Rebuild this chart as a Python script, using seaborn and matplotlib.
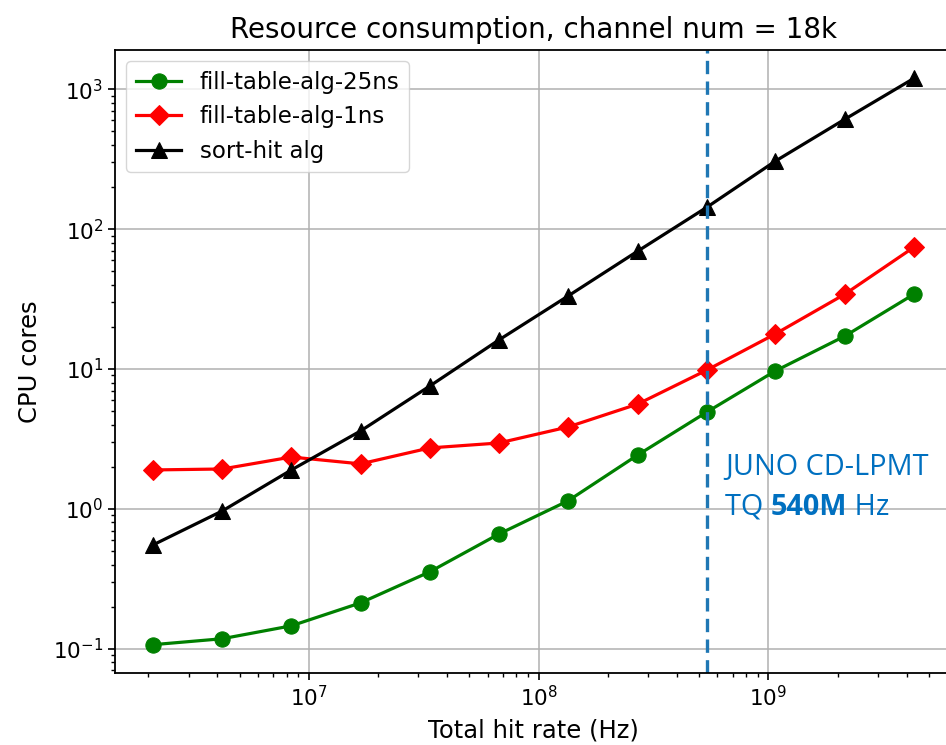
import matplotlib
matplotlib.use("Agg")
import matplotlib.pyplot as plt
import seaborn as sns
import numpy as np
import pandas as pd
from matplotlib.transforms import offset_copy

hit_rate = [2.1e6, 4.2e6, 8.4e6, 1.68e7, 3.36e7, 6.7e7, 1.34e8, 2.7e8, 5.4e8, 1.07e9, 2.15e9, 4.3e9]
fill_25ns = [0.107, 0.118, 0.146, 0.213, 0.355, 0.66, 1.14, 2.43, 4.93, 9.68, 17.2, 34.3]
fill_1ns = [1.90, 1.93, 2.35, 2.10, 2.73, 2.96, 3.85, 5.62, 9.84, 17.8, 34.3, 74.4]
sort_hit = [0.553, 0.967, 1.90, 3.61, 7.56, 16.1, 33.2, 69.7, 143.6, 306, 611, 1199]
series_names = ["fill-table-alg-25ns", "fill-table-alg-1ns", "sort-hit alg"]
juno_rate = 5.4e8

fig = plt.figure(figsize=(9.46, 7.45), dpi=100)
ax = fig.add_axes([115/946, 1 - 673/745, (952 - 115)/946, (673 - 50)/745])

styles = [("green", "o", 11), ("red", "D", 10), ("black", "^", 11)]
for name, vals, (c, m, ms) in zip(series_names, [fill_25ns, fill_1ns, sort_hit], styles):
    df = pd.DataFrame({"x": hit_rate, "y": vals})
    sns.lineplot(data=df, x="x", y="y", ax=ax, color=c, marker=m, markersize=ms,
                 markeredgecolor=c, linewidth=2.3, label=name)

ax.set_xscale("log")
ax.set_yscale("log")
ax.axvline(juno_rate, color="#1f77b4", linestyle="--", linewidth=2.4, dashes=(4, 2.2))
ax.grid(True, which="major", color="#b0b0b0", linewidth=1.1)
ax.set_axisbelow(True)
for s in ax.spines.values():
    s.set_linewidth(1.3)

ax.set_title("Resource consumption, channel num = 18k", fontsize=20, pad=9)
ax.set_xlabel("Total hit rate (Hz)", fontsize=17.5, labelpad=6)
ax.set_ylabel("CPU cores", fontsize=17.5, labelpad=8)
ax.tick_params(axis="both", which="major", labelsize=15.5, length=5, width=1.2)
ax.tick_params(axis="both", which="minor", length=3, width=1)
ax.legend(loc="upper left", fontsize=16.5, handlelength=2, borderaxespad=0.5)

blue = "#0070C0"
jfont = "Open Sans"
jsize = 20.8
ax.text(0.729, 0.318, "JUNO CD-LPMT", transform=ax.transAxes, color=blue,
        fontsize=jsize, family=jfont)
t1 = ax.text(0.729, 0.254, "TQ ", transform=ax.transAxes, color=blue,
             fontsize=jsize, family=jfont)
fig.canvas.draw()
r = fig.canvas.get_renderer()
w1 = t1.get_window_extent(r).width
t2 = ax.text(0.729, 0.254, "540M", color=blue, fontsize=jsize, family=jfont,
             fontweight="bold",
             transform=offset_copy(ax.transAxes, fig=fig, x=w1, y=0, units="dots"))
fig.canvas.draw()
w2 = t2.get_window_extent(r).width
ax.text(0.729, 0.254, " Hz", color=blue, fontsize=jsize, family=jfont,
        transform=offset_copy(ax.transAxes, fig=fig, x=w1 + w2, y=0, units="dots"))

fig.savefig("out.png", dpi=100)
